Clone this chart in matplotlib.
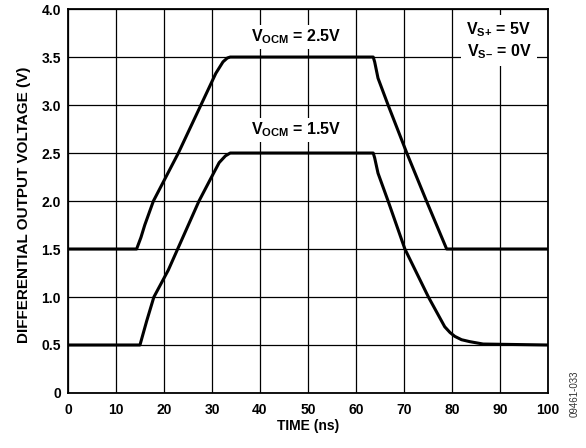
import numpy as np
import matplotlib
matplotlib.use("Agg")
import matplotlib.pyplot as plt

plt.rcParams['font.family'] = ['Liberation Sans', 'DejaVu Sans']
plt.rcParams['font.weight'] = 'bold'
plt.rcParams['mathtext.fontset'] = 'custom'
plt.rcParams['mathtext.rm'] = 'Liberation Sans:bold'
plt.rcParams['mathtext.bf'] = 'Liberation Sans:bold'

# VOCM = 2.5V trace (ns, V)
t_hi = [0, 14.3, 15.2, 16.0, 17.8, 23.0, 27.7, 30.8, 32.3, 33.2, 33.8, 34.5,
        63.6, 63.9, 64.6, 66.7, 70.6, 74.7, 78.9, 100]
v_hi = [1.5, 1.5, 1.62, 1.75, 2.0, 2.5, 3.0, 3.33, 3.45, 3.49, 3.5, 3.5,
        3.5, 3.45, 3.28, 3.0, 2.5, 2.0, 1.5, 1.5]

# VOCM = 1.5V trace
t_lo = [0, 15.0, 16.4, 17.9, 20.9, 27.3, 29.6, 31.5, 32.8, 33.8, 35.0,
        63.6, 63.9, 64.6, 66.7, 70.2, 75.1, 78.5, 79.6, 80.6, 82.0, 83.7, 86.5, 100]
v_lo = [0.5, 0.5, 0.75, 1.0, 1.28, 2.0, 2.22, 2.4, 2.47, 2.5, 2.5,
        2.5, 2.45, 2.29, 2.0, 1.5, 1.0, 0.69, 0.63, 0.59, 0.555, 0.535, 0.51, 0.5]

xticks = np.arange(0, 101, 10)
yticks = np.arange(0, 4.01, 0.5)
ylabels = ['0', '0.5', '1.0', '1.5', '2.0', '2.5', '3.0', '3.5', '4.0']

fig = plt.figure(figsize=(5.86, 4.48), dpi=100)
ax = fig.add_axes([0.116, 0.1228, 0.819, 0.857])

ax.plot(t_hi, v_hi, color='black', lw=2.2, solid_joinstyle='round', zorder=3)
ax.plot(t_lo, v_lo, color='black', lw=2.2, solid_joinstyle='round', zorder=3)

ax.set_xlim(0, 100)
ax.set_ylim(0, 4.0)
ax.set_xticks(xticks)
ax.set_yticks(yticks)
ax.set_yticklabels(ylabels)
ax.tick_params(length=0, labelsize=10)
ax.tick_params(axis='x', pad=7)
ax.tick_params(axis='y', pad=5)
ax.grid(True, color='black', lw=0.9)
for s in ax.spines.values():
    s.set_linewidth(1.3)

ax.set_xlabel('TIME (ns)', fontsize=10, fontweight='bold')
ax.xaxis.set_label_coords(0.5, -0.068)
ax.set_ylabel('DIFFERENTIAL OUTPUT VOLTAGE (V)', fontsize=11, fontweight='bold')
ax.yaxis.set_label_coords(-0.078, 0.49)

box = dict(facecolor='white', edgecolor='none', pad=2)
ax.text(47.6, 3.71, r'V$_\mathregular{OCM}$ = 2.5V', ha='center', va='center',
        fontsize=11.5, fontweight='bold', bbox=box, zorder=4)
ax.text(47.6, 2.74, r'V$_\mathregular{OCM}$ = 1.5V', ha='center', va='center',
        fontsize=11.5, fontweight='bold', bbox=box, zorder=4)
ax.text(89.8, 3.67, 'V$_\\mathregular{S{+}}$ = 5V\nV$_\\mathregular{S\u2013}$ = 0V',
        ha='center', va='center', fontsize=11.5, fontweight='bold', linespacing=1.2,
        bbox=dict(facecolor='white', edgecolor='none', pad=4), zorder=4)

fig.text(0.981, 0.12, '09461-033', rotation=90, ha='center', va='center',
         fontsize=7, fontweight='normal', color='#333333')

fig.savefig('out.png', dpi=100)
